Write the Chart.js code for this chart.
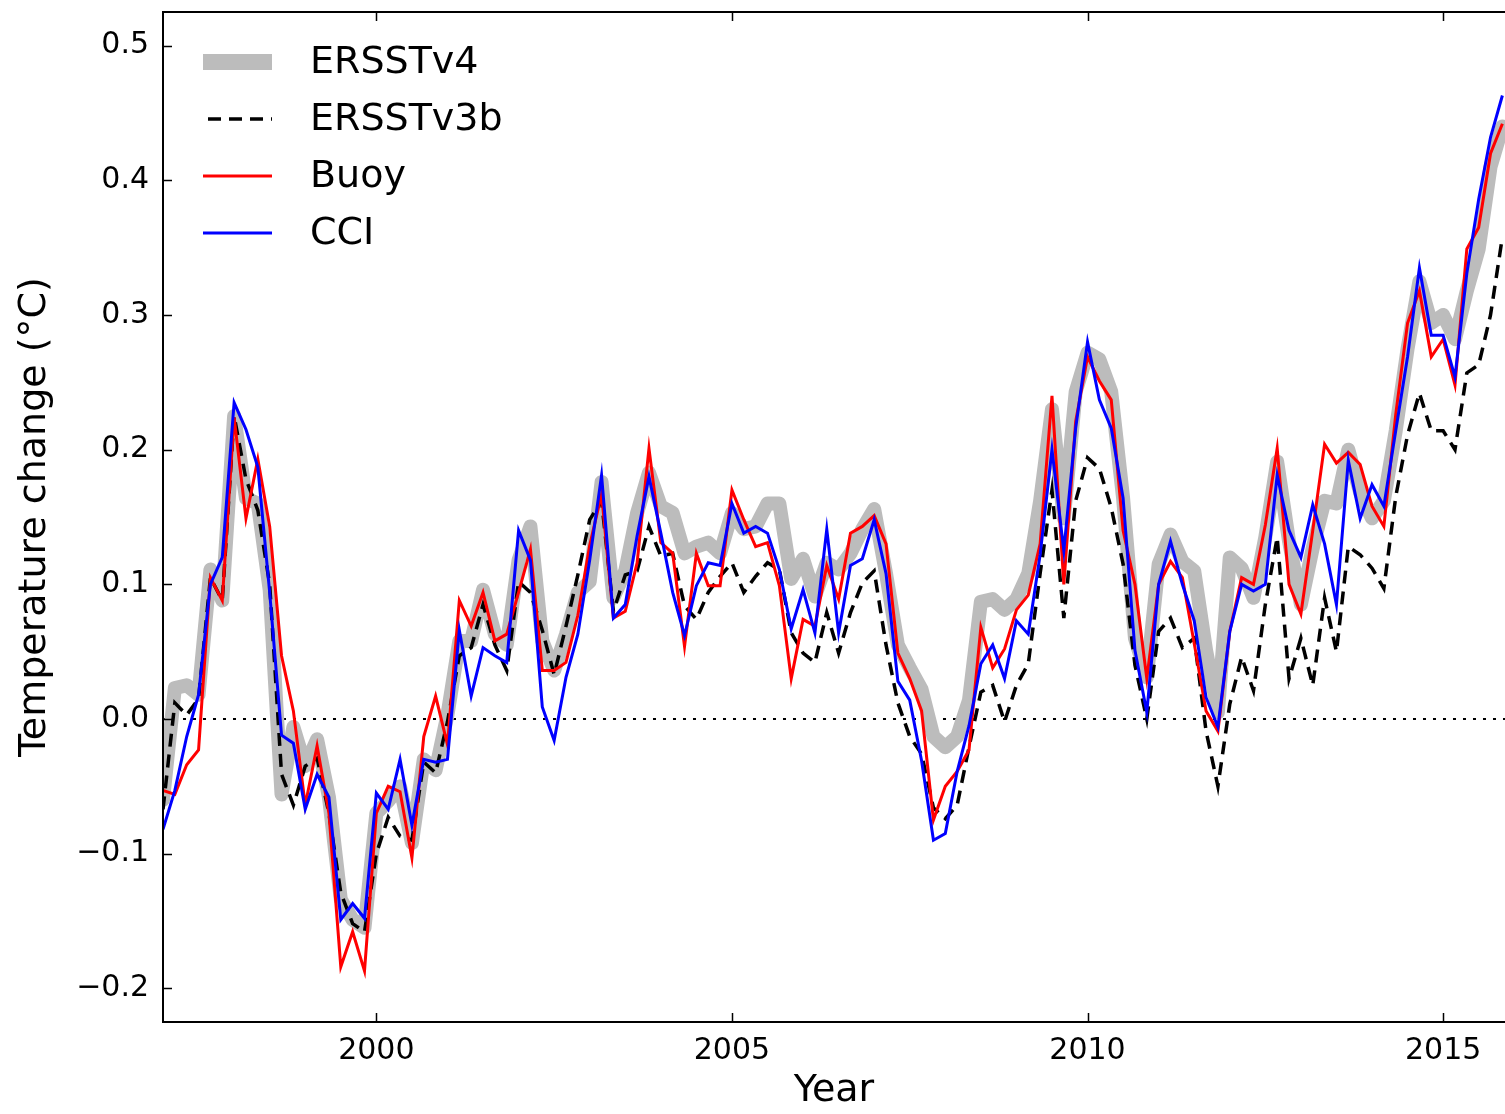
<!DOCTYPE html>
<html>
<head>
<meta charset="utf-8">
<script src="https://cdn.jsdelivr.net/npm/chart.js@4.4.1/dist/chart.umd.min.js"></script>
<style>
  html, body { margin: 0; padding: 0; background: #fff; }
  canvas { display: block; }
</style>
</head>
<body>
<canvas id="sstChart" width="1505" height="1114"></canvas>
<script>
// time axis: one sample every two months from Jan 1997
const startYear = 1997;
const samplesPerYear = 6;
const sampleCount = 114;
const years = Array.from({ length: sampleCount }, (_, i) => startYear + i / samplesPerYear);

const xTicks = [2000, 2005, 2010, 2015];
const xTickLabels = ['2000', '2005', '2010', '2015'];
const yTicks = [-0.2, -0.1, 0.0, 0.1, 0.2, 0.3, 0.4, 0.5];
const yTickLabels = ['\u22120.2', '\u22120.1', '0.0', '0.1', '0.2', '0.3', '0.4', '0.5'];

const seriesNames = ['ERSSTv4', 'ERSSTv3b', 'Buoy', 'CCI'];

const ersstV4 = [
  -0.06, 0.023, 0.025, 0.018, 0.111, 0.088, 0.225, 0.164, 0.16, 0.096,
  -0.056, -0.006, -0.035, -0.015, -0.058, -0.134, -0.149, -0.155, -0.07, -0.061,
  -0.05, -0.092, -0.03, -0.038, 0.003, 0.058, 0.058, 0.096, 0.063, 0.055,
  0.118, 0.143, 0.058, 0.036, 0.063, 0.094, 0.102, 0.176, 0.09, 0.11,
  0.153, 0.183, 0.158, 0.153, 0.123, 0.128, 0.131, 0.123, 0.153, 0.141,
  0.143, 0.16, 0.16, 0.104, 0.119, 0.091, 0.116, 0.111, 0.123, 0.141,
  0.156, 0.108, 0.055, 0.038, 0.022, -0.013, -0.021, -0.013, 0.014, 0.087,
  0.089, 0.081, 0.089, 0.108, 0.162, 0.23, 0.149, 0.243, 0.272, 0.267,
  0.243, 0.164, 0.06, 0.031, 0.115, 0.137, 0.117, 0.11, 0.051, 0.005,
  0.12, 0.112, 0.09, 0.135, 0.191, 0.132, 0.085, 0.127, 0.162, 0.16,
  0.2, 0.168, 0.149, 0.162, 0.214, 0.275, 0.325, 0.294, 0.3, 0.282,
  0.318, 0.349, 0.41, 0.44
];

const ersstV3b = [
  -0.067, 0.012, 0.003, 0.015, 0.105, 0.088, 0.225, 0.178, 0.155, 0.1,
  -0.041, -0.064, -0.035, -0.029, -0.07, -0.129, -0.152, -0.158, -0.1, -0.073,
  -0.087, -0.09, -0.032, -0.04, -0.002, 0.047, 0.053, 0.085, 0.055, 0.036,
  0.102, 0.094, 0.066, 0.033, 0.069, 0.107, 0.148, 0.162, 0.08, 0.107,
  0.11, 0.143, 0.121, 0.123, 0.084, 0.074, 0.094, 0.106, 0.116, 0.094,
  0.106, 0.116, 0.111, 0.064, 0.049, 0.042, 0.079, 0.049, 0.079, 0.101,
  0.11, 0.055, 0.012, -0.013, -0.026, -0.066, -0.074, -0.064, -0.021, 0.02,
  0.025, -0.002, 0.025, 0.041, 0.108, 0.17, 0.075, 0.162, 0.194, 0.186,
  0.157, 0.115, 0.04, 0.0, 0.065, 0.075, 0.053, 0.06, -0.009, -0.05,
  0.011, 0.046, 0.021, 0.085, 0.135, 0.03, 0.06, 0.025, 0.09, 0.05,
  0.128, 0.122, 0.112, 0.097, 0.165, 0.211, 0.242, 0.214, 0.214, 0.2,
  0.257, 0.263, 0.3, 0.358
];

const buoy = [
  -0.053, -0.056, -0.034, -0.023, 0.105, 0.088, 0.224, 0.149, 0.193, 0.143,
  0.047, 0.006, -0.064, -0.02, -0.07, -0.184, -0.158, -0.187, -0.07, -0.05,
  -0.054, -0.103, -0.013, 0.017, -0.019, 0.088, 0.069, 0.094, 0.058, 0.063,
  0.094, 0.126, 0.036, 0.036, 0.042, 0.077, 0.129, 0.167, 0.075, 0.08,
  0.116, 0.201, 0.131, 0.123, 0.054, 0.123, 0.099, 0.099, 0.17, 0.148,
  0.128, 0.131, 0.099, 0.03, 0.074, 0.069, 0.114, 0.089, 0.138, 0.143,
  0.151, 0.13, 0.049, 0.03, 0.006, -0.075, -0.05, -0.039, -0.023, 0.068,
  0.038, 0.052, 0.081, 0.092, 0.13, 0.24, 0.1, 0.221, 0.269, 0.251,
  0.237, 0.14, 0.1, 0.03, 0.1, 0.117, 0.105, 0.056, 0.006, -0.009,
  0.065, 0.105, 0.1, 0.144, 0.201, 0.1, 0.078, 0.14, 0.204, 0.19,
  0.198, 0.189, 0.158, 0.143, 0.226, 0.294, 0.318, 0.269, 0.282, 0.248,
  0.349, 0.365, 0.42, 0.442
];

const cci = [
  -0.082, -0.053, -0.013, 0.018, 0.1, 0.12, 0.235, 0.215, 0.187, 0.094,
  -0.012, -0.018, -0.067, -0.041, -0.058, -0.149, -0.137, -0.148, -0.055, -0.067,
  -0.03, -0.079, -0.03, -0.032, -0.03, 0.066, 0.017, 0.053, 0.047, 0.042,
  0.14, 0.118, 0.009, -0.016, 0.031, 0.063, 0.118, 0.181, 0.075, 0.085,
  0.136, 0.18, 0.138, 0.094, 0.062, 0.099, 0.116, 0.114, 0.16, 0.138,
  0.143, 0.138, 0.111, 0.067, 0.096, 0.064, 0.141, 0.064, 0.114, 0.119,
  0.148, 0.108, 0.028, 0.014, -0.031, -0.09, -0.085, -0.039, -0.005, 0.041,
  0.055, 0.03, 0.073, 0.063, 0.122, 0.2, 0.125, 0.216, 0.28, 0.237,
  0.216, 0.164, 0.051, 0.005, 0.1, 0.132, 0.1, 0.073, 0.016, -0.006,
  0.065, 0.1, 0.095, 0.1, 0.181, 0.14, 0.12, 0.159, 0.13, 0.085,
  0.192, 0.149, 0.174, 0.158, 0.214, 0.269, 0.335, 0.285, 0.285, 0.254,
  0.331, 0.386, 0.432, 0.463
];

const FONT = 'DejaVu Sans';

function toPoints(values) {
  return years.map((t, i) => ({ x: t, y: values[i] }));
}

// axes frame with inward ticks, dotted zero line and the legend
const framePlugin = {
  id: 'frame',
  beforeDatasetsDraw(chart) {
    const { ctx, chartArea: a, scales: { y } } = chart;
    const y0 = y.getPixelForValue(0);
    ctx.save();
    ctx.strokeStyle = '#000';
    ctx.lineWidth = 2;
    ctx.setLineDash([3, 7]);
    ctx.beginPath();
    ctx.moveTo(a.left, y0);
    ctx.lineTo(a.right, y0);
    ctx.stroke();
    ctx.restore();
  },
  afterDatasetsDraw(chart) {
    const { ctx, chartArea: a, scales: { x, y } } = chart;
    ctx.save();
    ctx.strokeStyle = '#000';
    ctx.lineWidth = 2;
    ctx.beginPath();
    ctx.moveTo(a.right, a.top); ctx.lineTo(a.left, a.top);
    ctx.lineTo(a.left, a.bottom); ctx.lineTo(a.right, a.bottom);
    ctx.stroke();
    const tl = 9;
    ctx.beginPath();
    yTicks.forEach(v => {
      const py = Math.round(y.getPixelForValue(v)) + 0.5;
      ctx.moveTo(a.left, py); ctx.lineTo(a.left + tl, py);
    });
    xTicks.forEach(v => {
      const px = Math.round(x.getPixelForValue(v)) + 0.5;
      ctx.moveTo(px, a.bottom); ctx.lineTo(px, a.bottom - tl);
      ctx.moveTo(px, a.top); ctx.lineTo(px, a.top + tl);
    });
    ctx.lineWidth = 1.5;
    ctx.stroke();

    // legend
    const rowY = [62, 119, 176, 233];
    const handleX0 = 203, handleX1 = 272, textX = 310;
    ctx.font = '38px "' + FONT + '"';
    ctx.textBaseline = 'middle';
    ctx.fillStyle = '#000';
    chart.data.datasets.forEach((ds, i) => {
      const ry = rowY[i];
      ctx.save();
      ctx.strokeStyle = ds.borderColor;
      ctx.lineWidth = ds.legendWidth;
      ctx.setLineDash(ds.borderDash || []);
      ctx.lineCap = 'butt';
      ctx.beginPath();
      ctx.moveTo(handleX0 + (ds.borderDash ? 5 : 0), ry);
      ctx.lineTo(handleX1, ry);
      ctx.stroke();
      ctx.restore();
      ctx.fillText(ds.label, textX, ry + 1);
    });
    ctx.restore();
  }
};

new Chart(document.getElementById('sstChart'), {
  type: 'line',
  data: {
    datasets: [
      {
        label: seriesNames[0],
        data: toPoints(ersstV4),
        borderColor: '#bcbcbc',
        borderWidth: 14,
        legendWidth: 16,
        borderJoinStyle: 'round',
        borderCapStyle: 'round',
        order: 4
      },
      {
        label: seriesNames[1],
        data: toPoints(ersstV3b),
        borderColor: '#000000',
        borderWidth: 3.5,
        legendWidth: 3.5,
        borderDash: [13, 8],
        order: 3
      },
      {
        label: seriesNames[2],
        data: toPoints(buoy),
        borderColor: '#ff0000',
        borderWidth: 3,
        legendWidth: 3,
        order: 2
      },
      {
        label: seriesNames[3],
        data: toPoints(cci),
        borderColor: '#0000ff',
        borderWidth: 3,
        legendWidth: 3,
        order: 1
      }
    ]
  },
  options: {
    responsive: false,
    animation: false,
    devicePixelRatio: 1,
    layout: { padding: { top: 12, right: 0, bottom: 0, left: 0 } },
    elements: { point: { radius: 0 }, line: { tension: 0 } },
    plugins: { legend: { display: false }, tooltip: { enabled: false } },
    scales: {
      x: {
        type: 'linear',
        min: 1997,
        max: 2015.87,
        afterBuildTicks: s => { s.ticks = xTicks.map(v => ({ value: v })); },
        afterFit: s => { s.height = 92; s.paddingLeft = 0; s.paddingRight = 0; },
        grid: { display: false, drawTicks: false },
        border: { display: false },
        ticks: {
          padding: 11,
          color: '#000',
          font: { family: FONT, size: 30 },
          maxRotation: 0,
          callback: v => xTickLabels[xTicks.indexOf(v)]
        },
        title: {
          display: true,
          text: 'Year',
          color: '#000',
          font: { family: FONT, size: 38 },
          padding: { top: 0, bottom: 0 }
        }
      },
      y: {
        type: 'linear',
        min: -0.225,
        max: 0.525,
        afterBuildTicks: s => { s.ticks = yTicks.map(v => ({ value: v })); },
        afterFit: s => { s.width = 163; s.paddingTop = 0; s.paddingBottom = 0; },
        grid: { display: false, drawTicks: false },
        border: { display: false },
        ticks: {
          padding: 14,
          color: '#000',
          font: { family: FONT, size: 30 },
          callback: (v, i) => yTickLabels[i]
        },
        title: {
          display: true,
          text: 'Temperature change (\u00b0C)',
          color: '#000',
          font: { family: FONT, size: 38 },
          padding: { top: 12, bottom: 0 }
        }
      }
    }
  },
  plugins: [framePlugin]
});
</script>
</body>
</html>
